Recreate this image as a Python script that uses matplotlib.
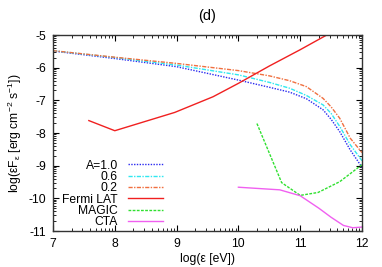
import numpy as np
import matplotlib
matplotlib.use("Agg")
import matplotlib.pyplot as plt
from matplotlib.ticker import FixedLocator

plt.rcParams["font.family"] = ["Liberation Sans", "DejaVu Sans"]
plt.rcParams["font.size"] = 8.7
plt.rcParams["mathtext.fontset"] = "custom"
plt.rcParams["mathtext.rm"] = "Liberation Sans"
plt.rcParams["mathtext.it"] = "Liberation Sans:italic"

# model curves (log energy vs log flux)
xModel = [7.0, 8.0, 9.0, 10.0, 10.5, 10.83, 11.1, 11.37, 11.5, 11.64, 11.81, 12.0]
yA10 = [-5.49, -5.72, -5.97, -6.38, -6.60, -6.75, -6.95, -7.29, -7.58, -7.96, -8.52, -9.05]
yA06 = [-5.48, -5.69, -5.92, -6.22, -6.45, -6.63, -6.85, -7.14, -7.40, -7.80, -8.36, -8.85]
yA02 = [-5.48, -5.68, -5.87, -6.09, -6.25, -6.40, -6.58, -6.94, -7.20, -7.55, -8.16, -8.60]

# instrument sensitivities
xFermi = [7.58, 8.0, 8.97, 9.59, 10.0, 10.5, 11.0, 11.43]
yFermi = [-7.62, -7.93, -7.37, -6.89, -6.48, -5.95, -5.45, -5.0]
xMagic = [10.3, 10.7, 11.0, 11.29, 11.64, 12.0]
yMagic = [-7.71, -9.52, -9.91, -9.82, -9.49, -8.97]
xCTA = [10.0, 10.67, 11.0, 11.3, 11.5, 11.7, 11.85, 12.0]
yCTA = [-9.66, -9.74, -9.92, -10.3, -10.58, -10.83, -10.9, -10.88]

fig = plt.figure(figsize=(3.82, 2.67), dpi=100)
ax = fig.add_axes([53 / 382, 36 / 267, 309 / 382, 196 / 267])

ax.plot(xModel, yA10, color="#2a2af0", ls=(0, (1, 1)), lw=1.0, label="A=1.0")
ax.plot(xModel, yA06, color="#30e8f0", ls=(0, (3, 1, 1, 1)), lw=1.0, label="0.6")
ax.plot(xModel, yA02, color="#f07040", ls=(0, (3, 1, 1, 1)), lw=1.0, label="0.2")
ax.plot(xFermi, yFermi, color="#f02020", lw=1.0, label="Fermi LAT")
ax.plot(xMagic, yMagic, color="#30e030", ls=(0, (2, 1)), lw=1.0, label="MAGIC")
ax.plot(xCTA, yCTA, color="#f060f0", lw=1.0, label="CTA")

ax.set_xlim(7, 12)
ax.set_ylim(-11, -5)
ax.set_xticks(range(7, 13))
ax.set_yticks(range(-11, -4))
ax.set_yticklabels([f"{v}" for v in range(-11, -4)])

minorX = [d + np.log10(k) for d in range(7, 12) for k in range(2, 10)]
minorY = [d + np.log10(k) for d in range(-11, -5) for k in range(2, 10)]
ax.xaxis.set_minor_locator(FixedLocator(minorX))
ax.yaxis.set_minor_locator(FixedLocator(minorY))
ax.tick_params(which="both", direction="in", top=True, right=True)
ax.tick_params(which="major", length=4, width=0.8, pad=5)
ax.tick_params(which="minor", length=2, width=0.6)
for s in ax.spines.values():
    s.set_linewidth(1.0)
    s.set_color("#333333")

ax.set_xlabel("log(ε [eV])", labelpad=2)
ax.set_ylabel(r"log(εF$_\mathregular{ε}$ [erg cm$^\mathregular{-2}$ s$^\mathregular{-1}$])", labelpad=3)
ax.set_title("(d)", pad=11)

ax.legend(
    loc="lower right",
    bbox_to_anchor=(0.355, 0.015),
    frameon=False,
    markerfirst=False,
    handlelength=2.9,
    handletextpad=0.8,
    labelspacing=-0.06,
    borderpad=0,
    borderaxespad=0,
)

fig.savefig("out.png", dpi=100)
